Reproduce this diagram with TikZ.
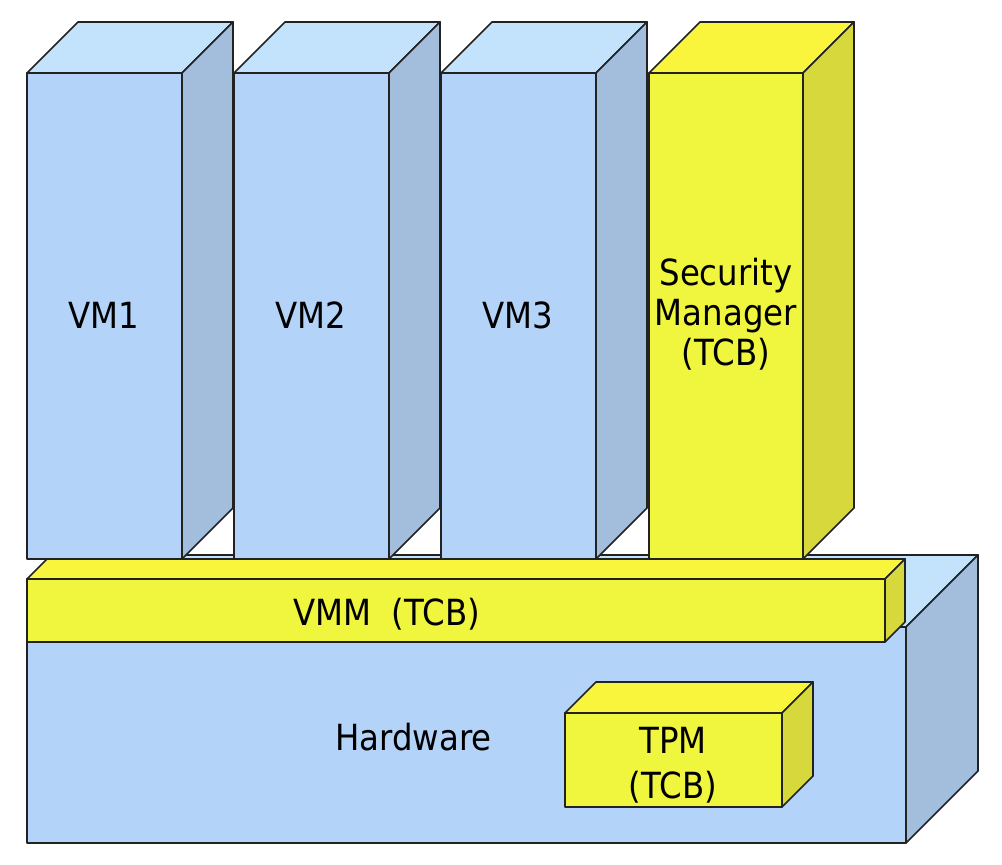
\documentclass[tikz,border=0pt]{standalone}
\usepackage{fontspec}
\setmainfont{DejaVu Sans}[FakeStretch=0.9]
\definecolor{bfront}{HTML}{B3D3F9}
\definecolor{btop}{HTML}{C2E3FB}
\definecolor{bside}{HTML}{A2BEDC}
\definecolor{yfront}{HTML}{F0F53D}
\definecolor{ytop}{HTML}{F8F53C}
\definecolor{yside}{HTML}{D6D83C}
\definecolor{edge}{HTML}{222222}
% \mycuboid{left}{top}{right}{bottom}{depth}{front}{top}{side}
\newcommand{\mycuboid}[8]{%
  \filldraw[facet,fill=#7] (#1,#2) -- ++(#5,-#5) -- (#3+#5,#2-#5) -- (#3,#2) -- cycle;
  \filldraw[facet,fill=#8] (#3,#2) -- (#3+#5,#2-#5) -- (#3+#5,#4-#5) -- (#3,#4) -- cycle;
  \filldraw[facet,fill=#6] (#1,#2) rectangle (#3,#4);
}
\begin{document}
\begin{tikzpicture}[x=1pt,y=-1pt,
  facet/.style={draw=edge,line width=1.7pt,line join=round},
  lbl/.style={font=\fontsize{36}{40}\selectfont,text=black,inner sep=0pt,align=center,anchor=base}]
\useasboundingbox (0,0) rectangle (1002,865);
% hardware
\mycuboid{27}{627}{906}{843}{72}{bfront}{btop}{bside}
% VMs
\mycuboid{27}{73}{182}{559}{51}{bfront}{btop}{bside}
\mycuboid{234}{73}{389}{559}{51}{bfront}{btop}{bside}
\mycuboid{441}{73}{596}{559}{51}{bfront}{btop}{bside}
\mycuboid{649}{73}{803}{559}{51}{yfront}{ytop}{yside}
% VMM
\mycuboid{27}{579}{885}{642}{20}{yfront}{ytop}{yside}
% TPM
\mycuboid{565}{713}{782}{807}{31}{yfront}{ytop}{yside}
% labels
\node[lbl] (vm1) at (104,328) {VM1};
\node[lbl] (vm2) at (311,328) {VM2};
\node[lbl] (vm3) at (518,328) {VM3};
\node[lbl] (sm) at (726,365) {Security\\Manager\\(TCB)};
\node[lbl,anchor=base west] (vmm) at (293,625) {VMM\ \ (TCB)};
\node[lbl,anchor=base west] (hw) at (335,750) {Hardware};
\node[lbl,font=\fontsize{36}{45}\selectfont] (tpm) at (673,798) {TPM\\(TCB)};
\end{tikzpicture}
\end{document}
